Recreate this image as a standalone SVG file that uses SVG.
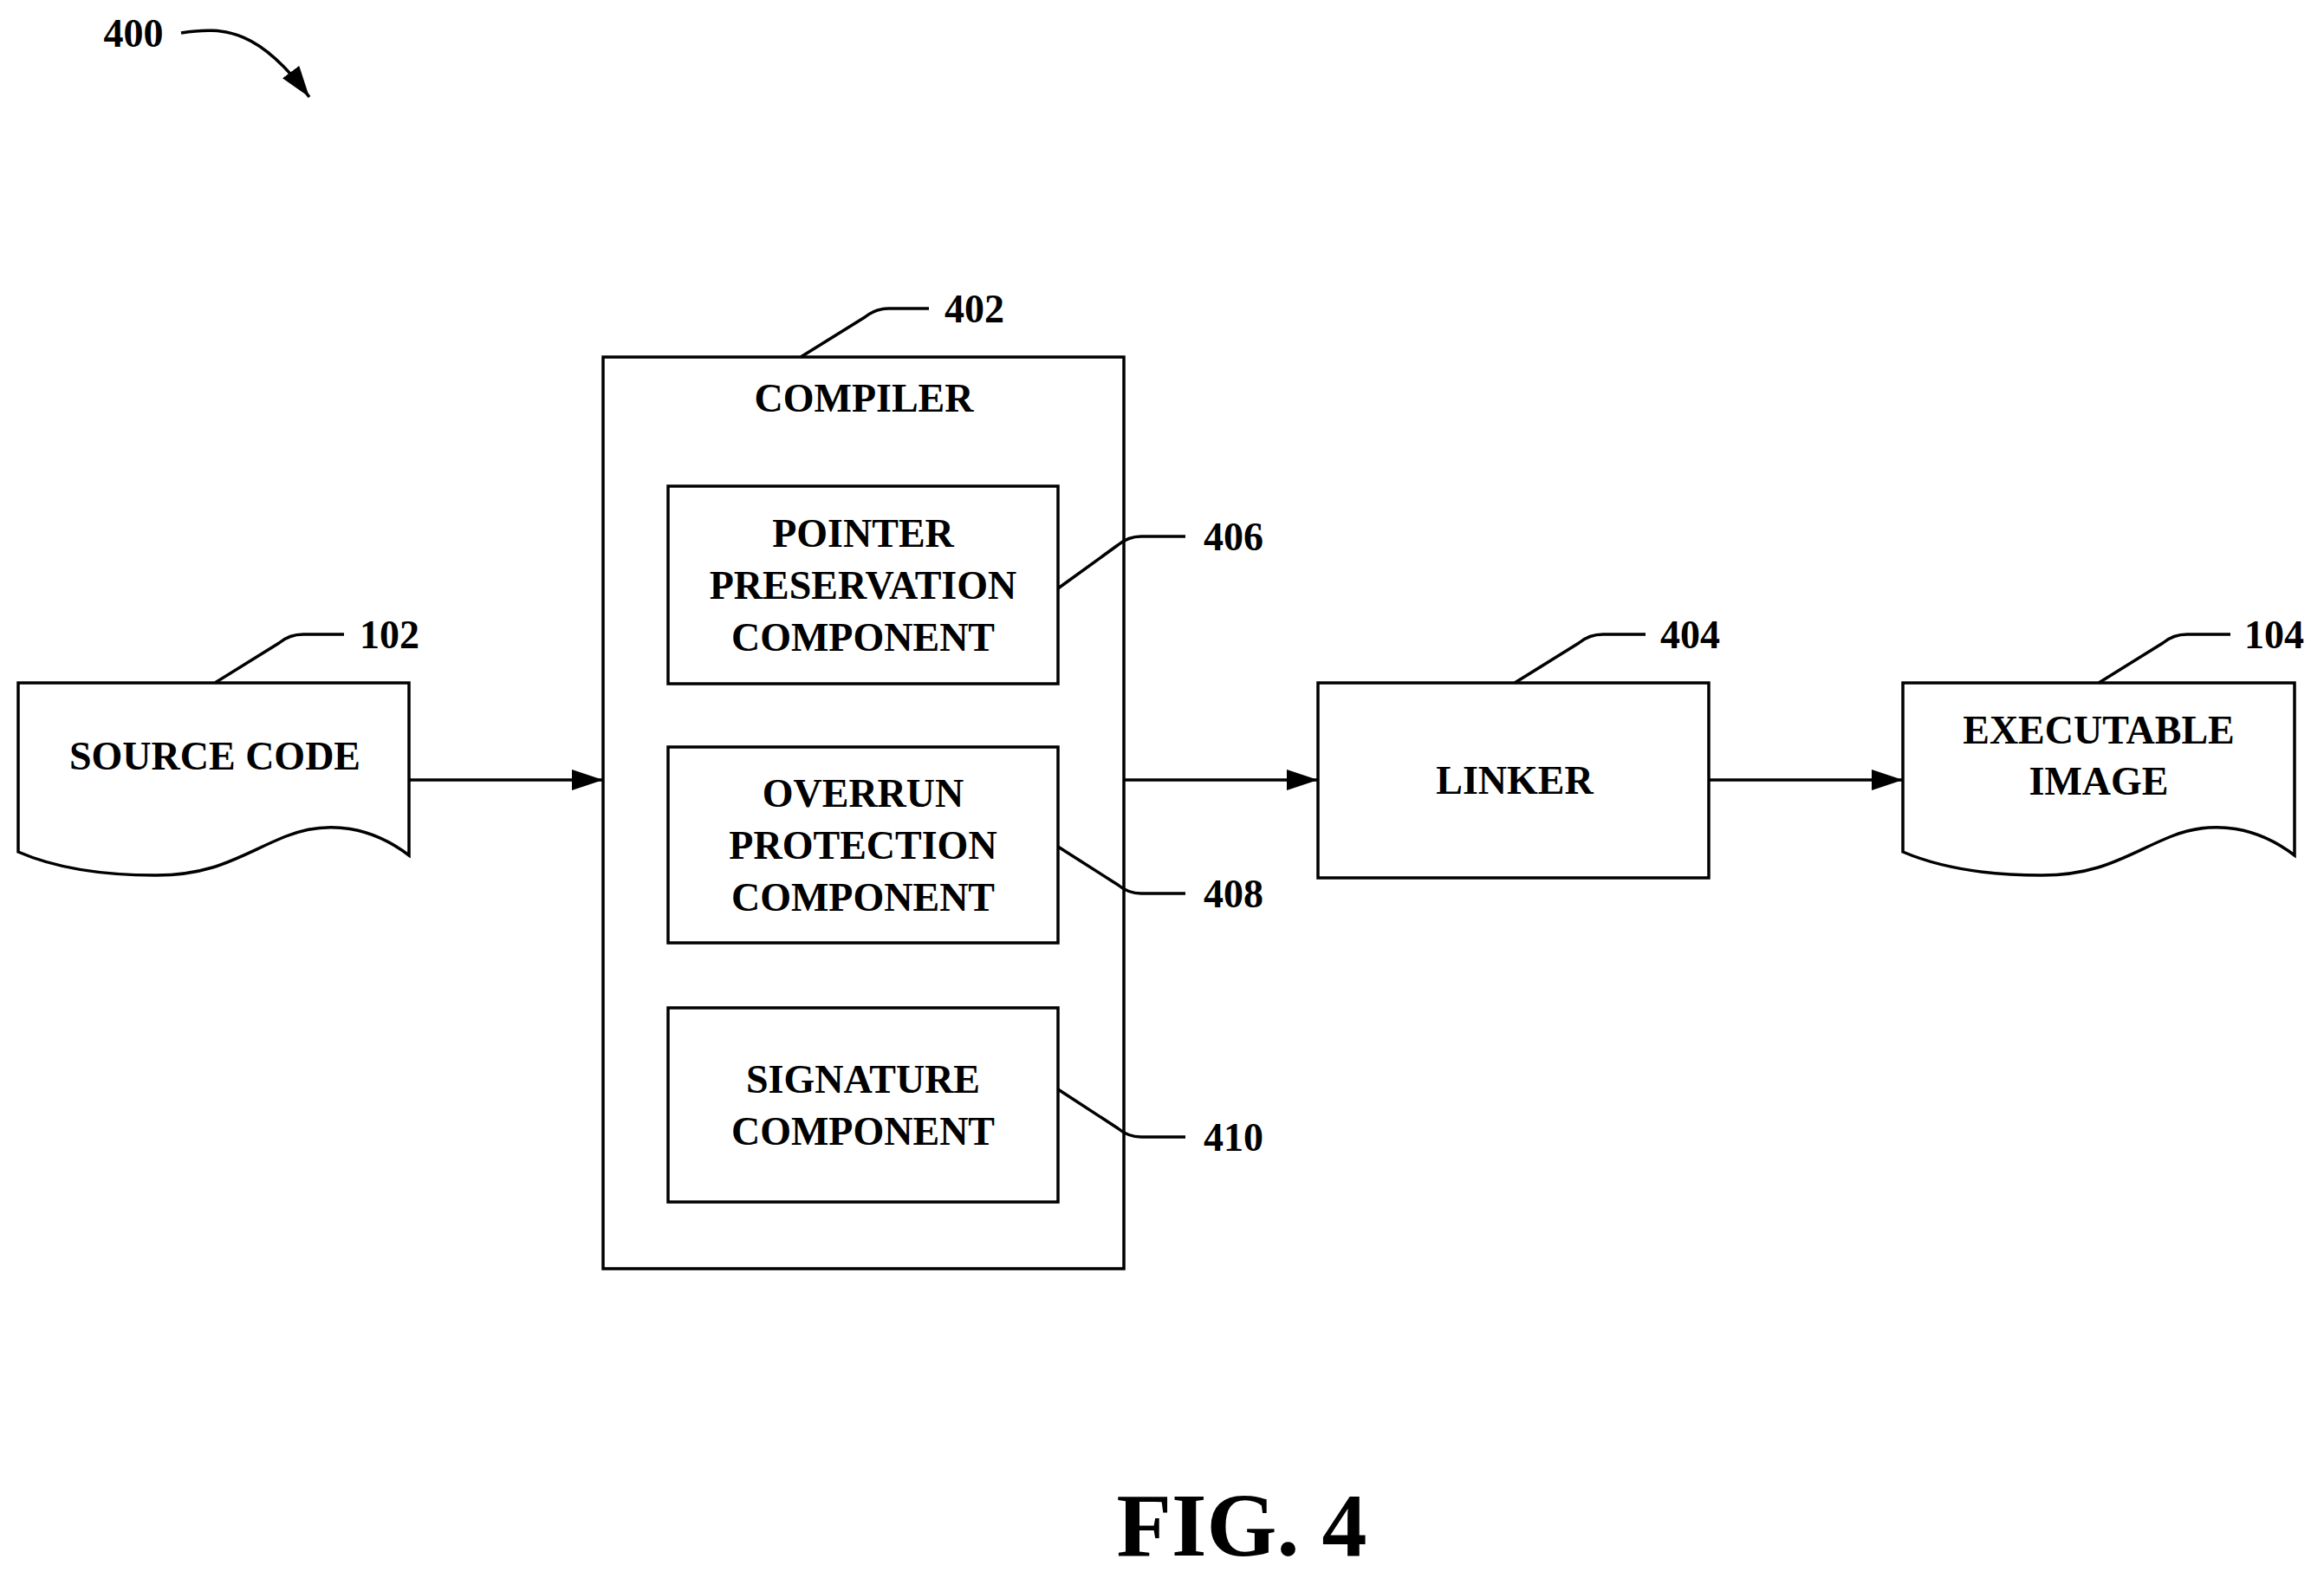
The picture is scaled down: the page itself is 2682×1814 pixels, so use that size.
<svg xmlns="http://www.w3.org/2000/svg" width="2682" height="1814" viewBox="0 0 2682 1814">
<style>
.b{fill:#fff;stroke:#000;stroke-width:3.5}
.l{fill:none;stroke:#000;stroke-width:3.5}
text{font-family:"Liberation Serif","Times New Roman",serif;font-weight:bold;font-size:46px;fill:#000}
.c{text-anchor:middle}
</style>
<defs>
<marker id="ah" markerUnits="userSpaceOnUse" markerWidth="36" markerHeight="24" refX="36" refY="12" orient="auto"><path d="M0,0 L36,12 L0,24 Z" fill="#000"/></marker>
</defs>
<g id="n400"><text x="154" y="54" class="c">400</text></g>
<g id="n102"><path class="b" d="M21,788 H472 V987 C430,955 380,945 330,965 C280,985 250,1010 180,1010 C110,1010 60,1000 21,983 Z"/><text x="248" y="888" class="c">SOURCE CODE</text></g>
<g id="n402"><rect class="b" x="696" y="412" width="601" height="1052"/><text x="997" y="475" class="c">COMPILER</text></g>
<g id="n406"><rect class="b" x="771" y="561" width="450" height="228"/><text class="c" x="996" y="631">POINTER</text><text class="c" x="996" y="691">PRESERVATION</text><text class="c" x="996" y="751">COMPONENT</text></g>
<g id="n408"><rect class="b" x="771" y="862" width="450" height="226"/><text class="c" x="996" y="931">OVERRUN</text><text class="c" x="996" y="991">PROTECTION</text><text class="c" x="996" y="1051">COMPONENT</text></g>
<g id="n410"><rect class="b" x="771" y="1163" width="450" height="224"/><text class="c" x="996" y="1261">SIGNATURE</text><text class="c" x="996" y="1321">COMPONENT</text></g>
<g id="n404"><rect class="b" x="1521" y="788" width="451" height="225"/><text class="c" x="1748" y="916">LINKER</text></g>
<g id="n104"><path class="b" d="M2196,788 H2648 V987 C2606,955 2556,945 2506,965 C2456,985 2426,1010 2356,1010 C2286,1010 2236,1000 2196,983 Z"/><text class="c" x="2422" y="858">EXECUTABLE</text><text class="c" x="2422" y="917">IMAGE</text></g>
<g id="connectors">
<path class="l" d="M209,38 C260,30 300,35 357,112" marker-end="url(#ah)"/>
<line class="l" x1="472" y1="900" x2="696" y2="900" marker-end="url(#ah)"/>
<line class="l" x1="1297" y1="900" x2="1521" y2="900" marker-end="url(#ah)"/>
<line class="l" x1="1972" y1="900" x2="2196" y2="900" marker-end="url(#ah)"/>
<path class="l" d="M248,788 L322,742 Q334,732 350,732 H397"/>
<path class="l" d="M924,412 L998,366 Q1010,356 1026,356 H1072"/>
<path class="l" d="M1748,788 L1822,742 Q1834,732 1850,732 H1899"/>
<path class="l" d="M2422,788 L2496,742 Q2508,732 2524,732 H2574"/>
<path class="l" d="M1221,679 L1290,629 Q1302,619 1317,619 H1368"/>
<path class="l" d="M1221,977 L1290,1021 Q1302,1031 1317,1031 H1368"/>
<path class="l" d="M1221,1257 L1290,1302 Q1302,1312 1317,1312 H1368"/>
</g>
<g id="labels">
<text x="1090" y="372">402</text>
<text x="415" y="748">102</text>
<text x="1916" y="748">404</text>
<text x="2590" y="748">104</text>
<text x="1389" y="635">406</text>
<text x="1389" y="1047">408</text>
<text x="1389" y="1328">410</text>
<text class="c" x="1433" y="1795" style="font-size:104px">FIG. 4</text>
</g>
</svg>
